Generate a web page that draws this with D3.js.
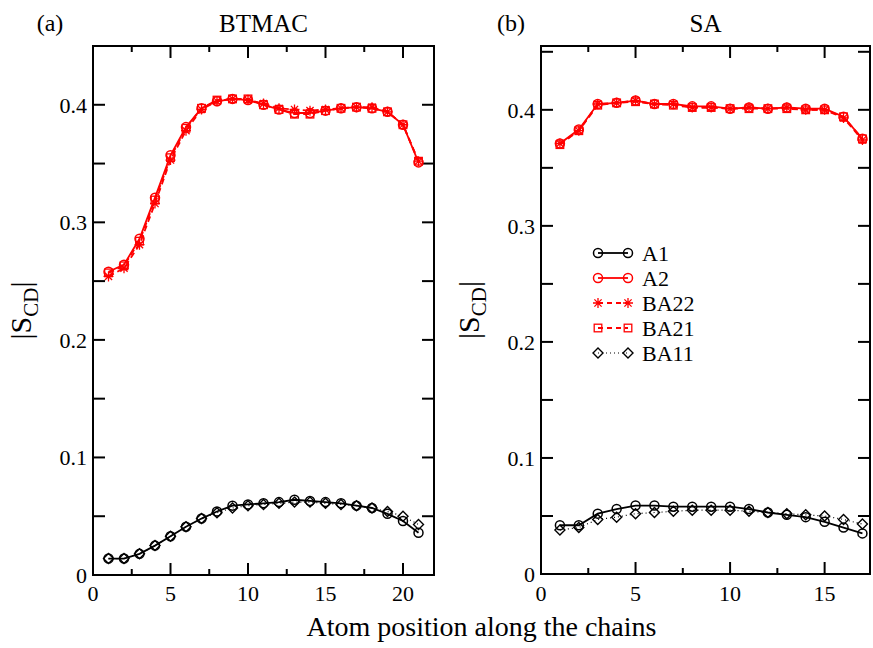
<!DOCTYPE html>
<html>
<head>
<meta charset="utf-8">
<script src="https://cdn.jsdelivr.net/npm/d3@7"></script>
<style>
  body { margin: 0; background: #fff; }
  svg { display: block; font-family: "Liberation Serif", "Times New Roman", serif; }
</style>
</head>
<body>
<svg id="chart" width="873" height="648"></svg>
<script>
// ── Data ──────────────────────────────────────────────────────────────────────
const btmacAtoms = d3.range(1, 22);
const btmacA1   = [0.014,0.014,0.018,0.025,0.033,0.041,0.048,0.054,0.059,0.060,0.061,0.062,0.064,0.063,0.062,0.061,0.059,0.057,0.052,0.046,0.036];
const btmacBA11 = [0.014,0.014,0.018,0.025,0.033,0.041,0.048,0.053,0.057,0.059,0.060,0.061,0.062,0.062,0.061,0.060,0.059,0.057,0.054,0.050,0.043];
const btmacA2   = [0.258,0.264,0.286,0.321,0.357,0.381,0.397,0.403,0.405,0.404,0.400,0.396,0.393,0.393,0.395,0.397,0.398,0.397,0.394,0.383,0.351];
const btmacBA22 = [0.254,0.261,0.281,0.316,0.353,0.378,0.396,0.403,0.405,0.404,0.401,0.397,0.396,0.395,0.396,0.397,0.398,0.398,0.394,0.383,0.352];
const btmacBA21 = [0.257,0.263,0.284,0.319,0.355,0.380,0.397,0.404,0.405,0.405,0.400,0.396,0.392,0.392,0.395,0.397,0.398,0.397,0.394,0.383,0.352];

const saAtoms = d3.range(1, 18);
const saA1   = [0.042,0.042,0.052,0.056,0.059,0.059,0.058,0.058,0.058,0.058,0.056,0.053,0.051,0.049,0.045,0.040,0.035];
const saBA11 = [0.038,0.040,0.047,0.049,0.052,0.053,0.054,0.055,0.055,0.055,0.054,0.053,0.052,0.051,0.050,0.047,0.043];
const saA2   = [0.371,0.383,0.405,0.406,0.408,0.405,0.405,0.403,0.403,0.401,0.402,0.401,0.402,0.401,0.401,0.394,0.375];
const saBA22 = [0.371,0.382,0.405,0.406,0.408,0.405,0.405,0.402,0.402,0.401,0.402,0.401,0.402,0.400,0.400,0.393,0.374];
const saBA21 = [0.370,0.382,0.404,0.406,0.407,0.405,0.404,0.402,0.402,0.401,0.401,0.401,0.401,0.400,0.400,0.394,0.375];

const seriesNames = ['A1', 'A2', 'BA22', 'BA21', 'BA11'];
const panelTitles = ['BTMAC', 'SA'];
const panelTags   = ['(a)', '(b)'];
const xTitle      = 'Atom position along the chains';

// ── Series styles ─────────────────────────────────────────────────────────────
const STYLE = {
  A1:   {color: '#000', dash: null,  marker: 'circle'},
  A2:   {color: '#f00', dash: null,  marker: 'circle'},
  BA22: {color: '#f00', dash: '6,4', marker: 'star'},
  BA21: {color: '#f00', dash: '6,4', marker: 'square'},
  BA11: {color: '#000', dash: '1,3', marker: 'diamond'}
};

const panels = [
  {x0: 93,  x1: 434, y0: 575, y1: 46, xMax: 22,   yMax: 0.45,  xTicks: [0,5,10,15,20], tagX: 50,
   atoms: btmacAtoms, data: {A1: btmacA1, A2: btmacA2, BA22: btmacBA22, BA21: btmacBA21, BA11: btmacBA11}},
  {x0: 541, x1: 870, y0: 574, y1: 46, xMax: 17.4, yMax: 0.455, xTicks: [0,5,10,15], tagX: 511,
   atoms: saAtoms, data: {A1: saA1, A2: saA2, BA22: saBA22, BA21: saBA21, BA11: saBA11}}
];

const svg = d3.select('#chart');
svg.append('rect').attr('width', 873).attr('height', 648).attr('fill', '#fff');

function drawMarker(g, type, x, y, color) {
  if (type === 'circle') {
    g.append('circle').attr('cx', x).attr('cy', y).attr('r', 4.5)
      .attr('fill', 'none').attr('stroke', color).attr('stroke-width', 1.5);
  } else if (type === 'square') {
    g.append('rect').attr('x', x - 3.8).attr('y', y - 3.8).attr('width', 7.6).attr('height', 7.6)
      .attr('fill', 'none').attr('stroke', color).attr('stroke-width', 1.3);
  } else if (type === 'diamond') {
    g.append('path').attr('d', `M${x},${y-5}L${x+5},${y}L${x},${y+5}L${x-5},${y}Z`)
      .attr('fill', 'none').attr('stroke', color).attr('stroke-width', 1.4);
  } else if (type === 'star') {
    const r = 5, d = r * 0.72;
    g.append('path')
      .attr('d', `M${x-r},${y}L${x+r},${y}M${x},${y-r}L${x},${y+r}M${x-d},${y-d}L${x+d},${y+d}M${x-d},${y+d}L${x+d},${y-d}`)
      .attr('stroke', color).attr('stroke-width', 1.3);
  }
}

panels.forEach((p, pi) => {
  const x = d3.scaleLinear().domain([0, p.xMax]).range([p.x0, p.x1]);
  const y = d3.scaleLinear().domain([0, p.yMax]).range([p.y0, p.y1]);
  const g = svg.append('g');

  // ticks (inward, mirrored on all four sides)
  const xMinor = d3.range(2.5, p.xMax, 5);
  const yMajor = [0.1, 0.2, 0.3, 0.4];
  const yMinor = d3.range(0.05, p.yMax + 1e-9, 0.1);
  const tk = g.append('g').attr('stroke', '#000').attr('stroke-width', 2);
  p.xTicks.concat(xMinor).forEach(v => {
    const len = p.xTicks.includes(v) ? 12 : 6;
    tk.append('line').attr('x1', x(v)).attr('x2', x(v)).attr('y1', p.y0).attr('y2', p.y0 - len);
    tk.append('line').attr('x1', x(v)).attr('x2', x(v)).attr('y1', p.y1).attr('y2', p.y1 + len);
  });
  yMajor.concat(yMinor).forEach(v => {
    const len = 12;
    tk.append('line').attr('y1', y(v)).attr('y2', y(v)).attr('x1', p.x0).attr('x2', p.x0 + len);
    tk.append('line').attr('y1', y(v)).attr('y2', y(v)).attr('x1', p.x1).attr('x2', p.x1 - len);
  });

  // frame
  g.append('rect').attr('x', p.x0).attr('y', p.y1).attr('width', p.x1 - p.x0).attr('height', p.y0 - p.y1)
    .attr('fill', 'none').attr('stroke', '#000').attr('stroke-width', 2);

  // tick labels
  g.append('g').selectAll('text').data(p.xTicks).join('text')
    .attr('x', d => x(d)).attr('y', 601).attr('text-anchor', 'middle')
    .attr('font-size', 22).text(d => d);
  g.append('g').selectAll('text').data([0].concat(yMajor)).join('text')
    .attr('x', p.x0 - 6).attr('y', d => y(d) + 8).attr('text-anchor', 'end')
    .attr('font-size', 22).text(d => d === 0 ? '0' : d3.format('.1f')(d));

  // y label |S_CD|
  const yl = g.append('text').attr('font-size', 30)
    .attr('transform', `translate(${p.x0 - 62},${(p.y0 + p.y1) / 2}) rotate(-90)`)
    .attr('text-anchor', 'middle');
  yl.append('tspan').text('|S');
  yl.append('tspan').attr('font-size', 21).attr('dy', 7).text('CD');
  yl.append('tspan').attr('dy', -7).text('|');

  // titles
  g.append('text').attr('x', (p.x0 + p.x1) / 2).attr('y', 32).attr('text-anchor', 'middle')
    .attr('font-size', 25).text(panelTitles[pi]);
  g.append('text').attr('x', p.tagX).attr('y', 31).attr('text-anchor', 'middle')
    .attr('font-size', 24).text(panelTags[pi]);

  // series: black first, then red on top
  ['BA11', 'A1', 'BA21', 'BA22', 'A2'].forEach(name => {
    const s = STYLE[name];
    const vals = p.data[name];
    const line = d3.line().x((d, i) => x(p.atoms[i])).y(d => y(d));
    g.append('path').datum(vals).attr('d', line).attr('fill', 'none')
      .attr('stroke', s.color).attr('stroke-width', name === 'BA11' ? 1.2 : 1.8)
      .attr('stroke-dasharray', s.dash);
    const mg = g.append('g');
    vals.forEach((v, i) => drawMarker(mg, s.marker, x(p.atoms[i]), y(v), s.color));
  });
});

// legend in right panel
const leg = svg.append('g');
seriesNames.forEach((name, i) => {
  const s = STYLE[name];
  const ly = 253 + i * 25;
  leg.append('line').attr('x1', 598).attr('x2', 628).attr('y1', ly).attr('y2', ly)
    .attr('stroke', s.color).attr('stroke-width', name === 'BA11' ? 1.2 : 1.8)
    .attr('stroke-dasharray', name === 'BA11' ? '1,3' : (s.dash ? '5,4' : null));
  drawMarker(leg, s.marker, 598, ly, s.color);
  drawMarker(leg, s.marker, 628, ly, s.color);
  leg.append('text').attr('x', 642).attr('y', ly + 8).attr('font-size', 22).text(name);
});

// shared x title
svg.append('text').attr('x', (93 + 870) / 2).attr('y', 636).attr('text-anchor', 'middle')
  .attr('font-size', 28).text(xTitle);
</script>
</body>
</html>
